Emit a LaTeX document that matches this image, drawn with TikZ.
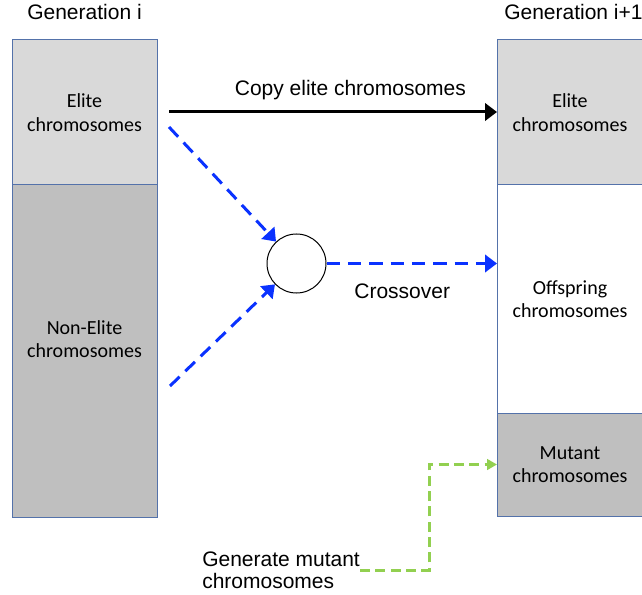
\documentclass[tikz,border=0pt]{standalone}
\usepackage{fontspec}
\setmainfont{Liberation Sans}
\newfontfamily\calibri{Carlito}
\usetikzlibrary{positioning, arrows.meta}
\definecolor{boxline}{RGB}{84,114,170}
\definecolor{lightgrey}{RGB}{217,217,217}
\definecolor{darkgrey}{RGB}{191,191,191}
\definecolor{xoblue}{RGB}{10,50,255}
\definecolor{mutgreen}{RGB}{146,208,80}

\begin{document}
\begin{tikzpicture}[x=0.75pt, y=-0.75pt, >={Triangle[length=9pt, width=13pt]}]
  \tikzstyle{chrom} = [draw=boxline, line width=0.75pt, rectangle, outer sep=0pt, inner sep=0pt, minimum width=108.75pt, align=center, font=\calibri\fontsize{15}{17.75}\selectfont]
  \tikzstyle{header} = [inner sep=0pt, text=black, font=\fontsize{15.75}{16.5}\selectfont]
  \tikzstyle{copyline} = [->, line width=2.25pt]
  \tikzstyle{xoline} = [->, xoblue, line width=2.25pt, dash pattern=on 10pt off 6pt]
  \tikzstyle{mutline} = [-{Triangle[length=7.5pt, width=8pt]}, mutgreen, line width=2.25pt, dash pattern=on 7.5pt off 4pt]
  \useasboundingbox (0,0) rectangle (642,595);

  % generation i
  \node [chrom, fill=lightgrey, minimum height=108.75pt] (elite) at (84.5,112.5) {Elite\\chromosomes};
  \node [chrom, fill=darkgrey, minimum height=249pt, below=0pt of elite,
         label={[name=nonelitetext, align=center, inner sep=0pt, yshift=9pt, font=\calibri\fontsize{15}{17.75}\selectfont]center:Non-Elite\\chromosomes}] (nonelite) {};
  \node [header, above=15pt of elite] (genleft) {Generation i};

  % generation i+1
  \node [chrom, fill=lightgrey, minimum width=109.5pt, minimum height=108.75pt] (nextelite) at (570,112.5) {Elite\\chromosomes};
  \node [chrom, fill=white, minimum width=109.5pt, minimum height=171pt, below=0pt of nextelite] (offspring) {Offspring\\chromosomes};
  \node [chrom, fill=darkgrey, minimum width=109.5pt, minimum height=77.25pt, below=0pt of offspring] (mutant) {Mutant\\chromosomes};
  \node [header, anchor=south west] (genright) at ([xshift=5.25pt, yshift=15pt]nextelite.north west) {Generation i+1};

  % crossover
  \node [draw, circle, line width=0.75pt, minimum size=44.25pt, inner sep=0pt] (xo) at (296.5,263.5) {};
  \coordinate (copystart) at (169,112);
  \coordinate (xoa) at (169,127);
  \coordinate (xob) at (170,386);
  \node [header, anchor=west, align=left] (mutlabel) at (202,570) {Generate mutant\\chromosomes};

  \draw [copyline] (copystart) -- node [header, above=8pt, pos=0.553] (copylabel) {Copy elite chromosomes} (copystart -| nextelite.west);
  \draw [xoline] (xoa) -- (xo);
  \draw [xoline] (xob) -- (xo);
  \draw [xoline] (xo) -- node [header, below=14pt, pos=0.444] (xolabel) {Crossover} (xo -| offspring.west);
  \draw [mutline] (mutlabel.east) -- ++(69,0) |- (mutant.west);
\end{tikzpicture}
\end{document}
